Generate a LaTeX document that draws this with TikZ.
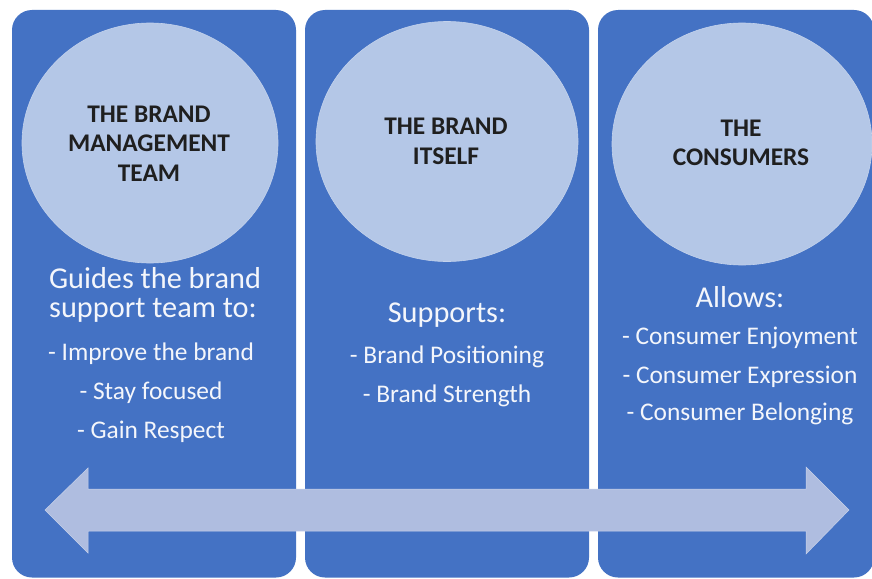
\documentclass[tikz,border=0pt]{standalone}
\usepackage{fontspec}
\setmainfont{Carlito}
\definecolor{boxblue}{HTML}{4472C4}
\definecolor{circblue}{HTML}{B4C7E7}
\definecolor{arrowblue}{HTML}{AFBDE0}
\definecolor{softwhite}{HTML}{F4F6FB}
\begin{document}
\begin{tikzpicture}[x=1pt,y=-1pt,
  panel/.style={fill=boxblue,draw=none,rounded corners=20pt},
  disc/.style={fill=circblue,draw=circblue!80!white,line width=0.6pt},
  title/.style={font=\fontsize{25.4}{29.5}\selectfont\bfseries,text=black!88,align=center,inner sep=0pt},
  head/.style={font=\fontsize{30.3}{32}\selectfont,text=softwhite,inner sep=0pt,anchor=center},
  item/.style={font=\fontsize{25.4}{28}\selectfont,text=softwhite,inner sep=0pt,anchor=center}]
\useasboundingbox (0,0) rectangle (872,578);
\fill[white] (0,0) rectangle (872,578);
% panels
\path[panel] (12,10) rectangle (296,577.5);
\path[panel] (305,10) rectangle (589,577.5);
\path[panel] (598,10) rectangle (874,577.5);
% circles
\draw[disc] (150,143) ellipse [x radius=128, y radius=120];
\draw[disc] (447,141.5) ellipse [x radius=131, y radius=120];
\draw[disc] (742,144) ellipse [x radius=130, y radius=121];
% circle titles
\node[title] (t1) at (149,143.5) {THE BRAND\\MANAGEMENT\\TEAM};
\node[title] (t2) at (446,141.5) {THE BRAND\\ITSELF};
\node[title] (t3) at (741,143) {THE\\CONSUMERS};
% column 1 text
\node[head] (g1) at (155,278.5) {Guides the brand};
\node[head] (g2) at (153,310.5) {support team to:};
\node[item] (a1) at (151,354) {- Improve the brand};
\node[item] (a2) at (151,393) {- Stay focused};
\node[item] (a3) at (151,432) {- Gain Respect};
% column 2 text
\node[head] (s0) at (447,315) {Supports:};
\node[item] (b1) at (447,357) {- Brand Positioning};
\node[item] (b2) at (447,396) {- Brand Strength};
% column 3 text
\node[head] (l0) at (740,297) {Allows:};
\node[item] (c1) at (740,338) {- Consumer Enjoyment};
\node[item] (c2) at (740,377) {- Consumer Expression};
\node[item] (c3) at (740,414) {- Consumer Belonging};
% double arrow
\fill[arrowblue,draw=arrowblue!70!white,line width=0.5pt]
  (45,510) -- (88,468) -- (88,489) -- (806,489) -- (806,467) -- (849,510)
  -- (806,554) -- (806,531) -- (88,531) -- (88,553) -- cycle;
\end{tikzpicture}
\end{document}
